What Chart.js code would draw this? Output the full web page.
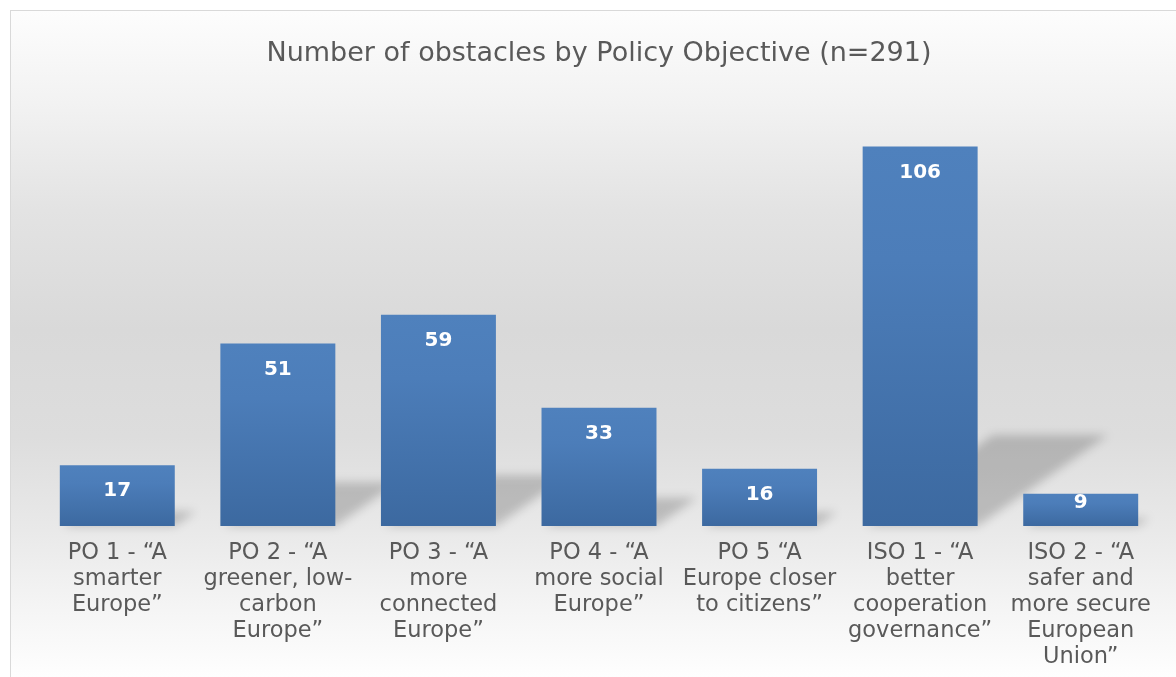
<!DOCTYPE html>
<html>
<head>
<meta charset="utf-8">
<script src="https://cdn.jsdelivr.net/npm/chart.js@4/dist/chart.umd.min.js"></script>
<style>
  html, body { margin: 0; padding: 0; background: #ffffff; }
  #wrap { width: 1176px; height: 677px; position: relative; }
</style>
</head>
<body>
<div id="wrap"><canvas id="chart" width="1176" height="677"></canvas></div>
<script>
// Policy objective categories (each label split into its display lines)
const categories = [
  ['PO 1 - \u201cA', 'smarter', 'Europe\u201d'],
  ['PO 2 - \u201cA', 'greener, low-', 'carbon', 'Europe\u201d'],
  ['PO 3 - \u201cA', 'more', 'connected', 'Europe\u201d'],
  ['PO 4 - \u201cA', 'more social', 'Europe\u201d'],
  ['PO 5 \u201cA', 'Europe closer', 'to citizens\u201d'],
  ['ISO 1 - \u201cA', 'better', 'cooperation', 'governance\u201d'],
  ['ISO 2 - \u201cA', 'safer and', 'more secure', 'European', 'Union\u201d']
];

// Number of obstacles per objective
const obstacles = [17, 51, 59, 33, 16, 106, 9];

const titleText = 'Number of obstacles by Policy Objective (n=291)';

const FONT = "'DejaVu Sans', Verdana, sans-serif";

// Panel background: light grey vertical gradient with a thin border
const panelBackground = {
  id: 'panelBackground',
  beforeDraw(chart) {
    const c = chart.ctx;
    const W = chart.width, H = chart.height;
    c.save();
    c.fillStyle = '#ffffff';
    c.fillRect(0, 0, W, H);
    const g = c.createLinearGradient(0, 10, 0, H);
    g.addColorStop(0.00, '#fdfdfd');
    g.addColorStop(0.14, '#f2f2f2');
    g.addColorStop(0.30, '#e3e3e3');
    g.addColorStop(0.48, '#d9d9d9');
    g.addColorStop(0.64, '#dddddd');
    g.addColorStop(0.78, '#e9e9e9');
    g.addColorStop(0.90, '#f5f5f5');
    g.addColorStop(1.00, '#fefefe');
    c.fillStyle = g;
    c.fillRect(10, 10, W, H);
    c.strokeStyle = '#d9d9d9';
    c.lineWidth = 1;
    c.strokeRect(10.5, 10.5, W + 10, H + 10);
    c.restore();
  }
};

// Perspective shadow cast up and to the right behind each bar
const barShadows = {
  id: 'barShadows',
  beforeDatasetsDraw(chart) {
    const c = chart.ctx;
    const meta = chart.getDatasetMeta(0);
    c.save();
    c.filter = 'blur(5px)';
    c.fillStyle = 'rgba(0,0,0,0.19)';
    meta.data.forEach(bar => {
      const half = bar.width / 2;
      const left = bar.x - half, right = bar.x + half;
      const base = bar.base, top = bar.y;
      const h = (base - top) * 0.24;
      const dx = h * 1.43;
      c.beginPath();
      c.moveTo(left + 4, base);
      c.lineTo(right, base);
      c.lineTo(right + dx, base - h);
      c.lineTo(left + dx, base - h);
      c.closePath();
      c.fill();
    });
    c.restore();
  }
};

// White bold value labels placed inside the top of each bar
const valueLabels = {
  id: 'valueLabels',
  afterDatasetsDraw(chart) {
    const c = chart.ctx;
    const meta = chart.getDatasetMeta(0);
    c.save();
    c.font = 'bold 20px ' + FONT;
    c.fillStyle = '#ffffff';
    c.textAlign = 'center';
    c.textBaseline = 'middle';
    meta.data.forEach((bar, i) => {
      const height = bar.base - bar.y;
      const offset = height >= 50 ? 26 : 9;
      c.fillText(String(obstacles[i]), bar.x, bar.y + offset);
    });
    c.restore();
  }
};

function barGradient(ctx) {
  const chart = ctx.chart;
  const y = chart.scales && chart.scales.y;
  if (!chart.chartArea || !y || ctx.type !== 'data') return '#4677b3';
  const top = y.getPixelForValue(ctx.raw);
  const bottom = y.getPixelForValue(0);
  const g = chart.ctx.createLinearGradient(0, top, 0, bottom);
  g.addColorStop(0, '#4f81bd');
  g.addColorStop(0.3, '#4c7db9');
  g.addColorStop(1, '#3c69a0');
  return g;
}

new Chart(document.getElementById('chart'), {
  type: 'bar',
  data: {
    labels: categories,
    datasets: [{
      data: obstacles,
      backgroundColor: barGradient,
      borderWidth: 0,
      barPercentage: 0.716,
      categoryPercentage: 1.0
    }]
  },
  options: {
    responsive: false,
    animation: false,
    events: [],
    layout: { padding: { left: 37, right: 15, top: 10, bottom: 7 } },
    plugins: {
      legend: { display: false },
      tooltip: { enabled: false },
      title: {
        display: true,
        text: titleText,
        color: '#595959',
        font: { family: FONT, size: 27, weight: 'normal', lineHeight: 1.2 },
        padding: { top: 28, bottom: 26 }
      }
    },
    scales: {
      x: {
        grid: { display: false, drawTicks: false },
        border: { display: false },
        afterFit(scale) { scale.height = 144; },
        ticks: {
          color: '#595959',
          font: { family: FONT, size: 22.5, lineHeight: '26px' },
          padding: 14,
          autoSkip: false,
          maxRotation: 0,
          minRotation: 0
        }
      },
      y: {
        display: false,
        min: 0,
        max: 120
      }
    }
  },
  plugins: [panelBackground, barShadows, valueLabels]
});
</script>
</body>
</html>
